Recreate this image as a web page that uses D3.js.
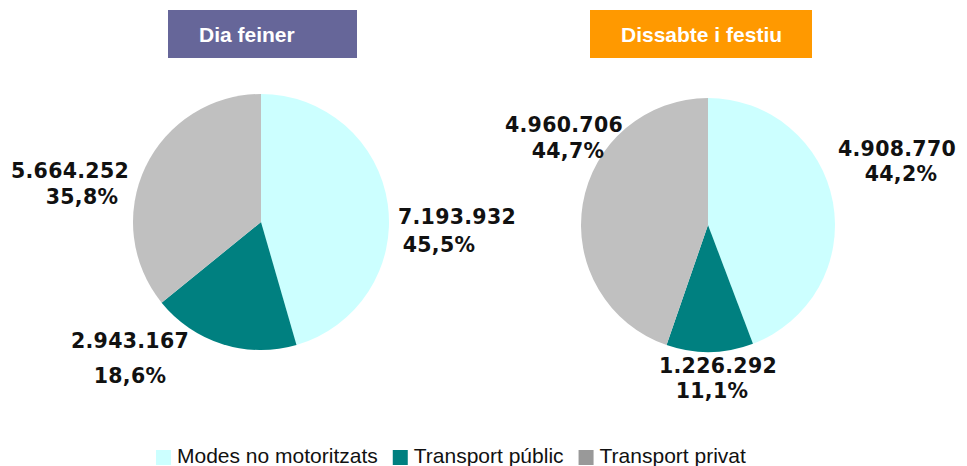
<!DOCTYPE html>
<html>
<head>
<meta charset="utf-8">
<script src="https://cdn.jsdelivr.net/npm/d3@7"></script>
<style>
  body { margin: 0; background: #fff; }
  .lbl { font-family: "DejaVu Sans", Verdana, sans-serif; font-weight: bold; font-size: 20.5px; letter-spacing: 0.3px; fill: #111; }
  .ttl { font-family: "Liberation Sans", Arial, sans-serif; font-weight: bold; font-size: 21px; fill: #fff; }
  .leg { font-family: "Liberation Sans", Arial, sans-serif; font-size: 21px; fill: #111; }
</style>
</head>
<body>
<div id="chart"></div>
<script>
var categories = ["Modes no motoritzats", "Transport públic", "Transport privat"];
var titles = ["Dia feiner", "Dissabte i festiu"];
var feinerValues = [7193932, 2943167, 5664252];
var feinerPct = ["45,5%", "18,6%", "35,8%"];
var festiuValues = [4908770, 1226292, 4960706];
var festiuPct = ["44,2%", "11,1%", "44,7%"];

var colors = ["#CCFFFF", "#008080", "#C0C0C0"];
var legendColors = ["#CCFFFF", "#008080", "#999999"];
var titleColors = ["#666699", "#FF9900"];

var width = 967, height = 466;
var svg = d3.select("#chart").append("svg")
    .attr("width", width)
    .attr("height", height);

// per chart layout
var charts = [
  { title: titles[0], values: feinerValues, pct: feinerPct, cx: 261, cy: 222, r: 128,
    box: [168, 10, 189, 48],
    // label offsets from the pie centre: [dx, dy, pct dx, line gap]
    labels: [[196, 2, -18, 28], [-131, 126, 0, 35], [-191, -44, 12, 26]] },
  { title: titles[1], values: festiuValues, pct: festiuPct, cx: 708, cy: 225, r: 127,
    box: [590, 10, 222, 48],
    labels: [[189, -69, 4, 25], [10, 148, -6, 25], [-144, -93, 4, 26]] }
];

var fmt = d3.formatLocale({ decimal: ",", thousands: ".", grouping: [3], currency: ["", ""] }).format(",d");

charts.forEach(function(c, ci) {
  var g = svg.append("g");

  g.append("rect")
      .attr("x", c.box[0]).attr("y", c.box[1])
      .attr("width", c.box[2]).attr("height", c.box[3])
      .attr("fill", titleColors[ci]);
  g.append("text")
      .attr("class", "ttl")
      .attr("x", c.box[0] + 31)
      .attr("y", 42)
      .text(c.title);

  var pie = d3.pie().sort(null).value(function(d) { return d; });
  var arc = d3.arc().innerRadius(0).outerRadius(c.r);

  var pg = g.append("g").attr("transform", "translate(" + c.cx + "," + c.cy + ")");
  pg.selectAll("path")
      .data(pie(c.values))
      .enter().append("path")
      .attr("d", arc)
      .attr("fill", function(d, i) { return colors[i]; });

  c.values.forEach(function(v, i) {
    var L = c.labels[i];
    var t = pg.append("text")
        .attr("class", "lbl")
        .attr("text-anchor", "middle")
        .attr("y", L[1]);
    t.append("tspan").attr("x", L[0]).text(fmt(v));
    t.append("tspan").attr("x", L[0] + L[2]).attr("dy", L[3]).text(c.pct[i]);
  });
});

// legend
var leg = svg.append("g").attr("transform", "translate(156,450)");
var lx = 0;
categories.forEach(function(name, i) {
  var item = leg.append("g").attr("transform", "translate(" + lx + ",0)");
  item.append("rect")
      .attr("width", 15).attr("height", 15)
      .attr("fill", legendColors[i]);
  var t = item.append("text")
      .attr("class", "leg")
      .attr("x", 21)
      .attr("y", 13)
      .text(name);
  lx += 21 + t.node().getComputedTextLength() + 15;
});
</script>
</body>
</html>
